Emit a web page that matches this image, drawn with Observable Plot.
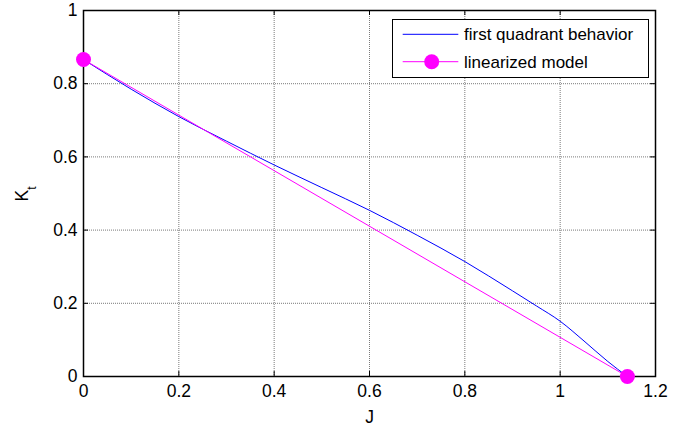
<!DOCTYPE html>
<html><head><meta charset="utf-8">
<script src="https://cdn.jsdelivr.net/npm/d3@7"></script>
<script src="https://cdn.jsdelivr.net/npm/@observablehq/plot@0.6"></script>
<style>
body{margin:0;background:#fff;font-family:"Liberation Sans",Arial,sans-serif;}
#wrap{position:relative;width:682px;height:426px;}
#legend{position:absolute;left:392px;top:19px;width:257px;height:59px;}
</style></head>
<body><div id="wrap"><div id="legend"></div></div>
<script>
// first quadrant behavior (blue curve)
const curveJ  = [0, 0.1, 0.2, 0.3, 0.4, 0.5, 0.6, 0.7, 0.8, 0.9, 0.95, 1.0, 1.05, 1.1, 1.141];
const curveKt = [0.866, 0.785, 0.710, 0.643, 0.578, 0.516, 0.454, 0.386, 0.314, 0.234, 0.193, 0.151, 0.097, 0.041, 0];
// linearized model (magenta line with end markers)
const linJ  = [0, 1.141];
const linKt = [0.866, 0];
const xTicks = [0, 0.2, 0.4, 0.6, 0.8, 1, 1.2];
const yTicks = [0, 0.2, 0.4, 0.6, 0.8, 1];
const seriesNames = ["first quadrant behavior", "linearized model"];
const seriesColors = ["#0000ff", "#ff00ff"];

const curve = curveJ.map((j, i) => ({J: j, Kt: curveKt[i]}));
const lin = linJ.map((j, i) => ({J: j, Kt: linKt[i]}));

const W = 682, H = 426, mT = 10, mB = 50, mL = 83, mR = 27;
const fw = W - mL - mR, fh = H - mT - mB;
const tk = 5;
const FS = 17.5;

const plot = Plot.plot({
  width: W, height: H,
  marginTop: mT, marginBottom: mB, marginLeft: mL, marginRight: mR,
  x: {domain: [0, 1.2]},
  y: {domain: [0, 1]},
  style: {fontFamily: "'Liberation Sans', Arial, sans-serif", color: "#000", background: "#fff", overflow: "visible"},
  marks: [
    Plot.gridX(xTicks, {stroke: "#7a7a7a", strokeOpacity: 1, strokeDasharray: "1,1"}),
    Plot.gridY(yTicks, {stroke: "#7a7a7a", strokeOpacity: 1, strokeDasharray: "1,1"}),
    Plot.tickX(xTicks, {x: d => d, stroke: "#000", insetTop: fh - tk}),
    Plot.tickX(xTicks, {x: d => d, stroke: "#000", insetBottom: fh - tk}),
    Plot.tickY(yTicks, {y: d => d, stroke: "#000", insetRight: fw - tk}),
    Plot.tickY(yTicks, {y: d => d, stroke: "#000", insetLeft: fw - tk}),
    Plot.frame({stroke: "#000", strokeWidth: 1.5}),
    Plot.line(curve, {x: "J", y: "Kt", stroke: seriesColors[0], strokeWidth: 1, curve: "monotone-x"}),
    Plot.line(lin, {x: "J", y: "Kt", stroke: seriesColors[1], strokeWidth: 1}),
    Plot.dot(lin, {x: "J", y: "Kt", r: 7.5, fill: seriesColors[1], stroke: "none"}),
    Plot.axisX(xTicks, {tickSize: 0, tickPadding: 8, fontSize: FS, tickFormat: d => String(d), label: "J", labelAnchor: "center", labelArrow: "none", labelOffset: 46}),
    Plot.axisY(yTicks, {tickSize: 0, tickPadding: 6, fontSize: FS, tickFormat: d => String(d), label: null})
  ]
});
document.getElementById("wrap").prepend(plot);

// y-axis label K_t
const svg = d3.select(plot);
const yl = svg.append("text")
  .attr("transform", "translate(28,194) rotate(-90)")
  .attr("text-anchor", "middle")
  .attr("font-size", FS)
  .attr("fill", "#000");
yl.append("tspan").text("K");
yl.append("tspan").attr("font-size", 12).attr("dy", 8).text("t");

// legend
const lg = d3.select("#legend").append("svg").attr("width", 257).attr("height", 59);
lg.append("rect").attr("x", 0.5).attr("y", 0.5).attr("width", 256).attr("height", 58)
  .attr("fill", "#fff").attr("stroke", "#000").attr("stroke-width", 1);
const rowsY = [15.3, 42.7];
seriesNames.forEach((name, i) => {
  lg.append("line").attr("x1", 10.7).attr("x2", 66.3).attr("y1", rowsY[i]).attr("y2", rowsY[i])
    .attr("stroke", seriesColors[i]).attr("stroke-width", 1);
  if (i === 1) lg.append("circle").attr("cx", 39.7).attr("cy", rowsY[i]).attr("r", 7.5).attr("fill", seriesColors[i]);
  lg.append("text").attr("x", 72).attr("y", rowsY[i] + 6).attr("font-size", 17)
    .attr("font-family", "'Liberation Sans', Arial, sans-serif").attr("fill", "#000").text(name);
});
</script>
</body></html>
